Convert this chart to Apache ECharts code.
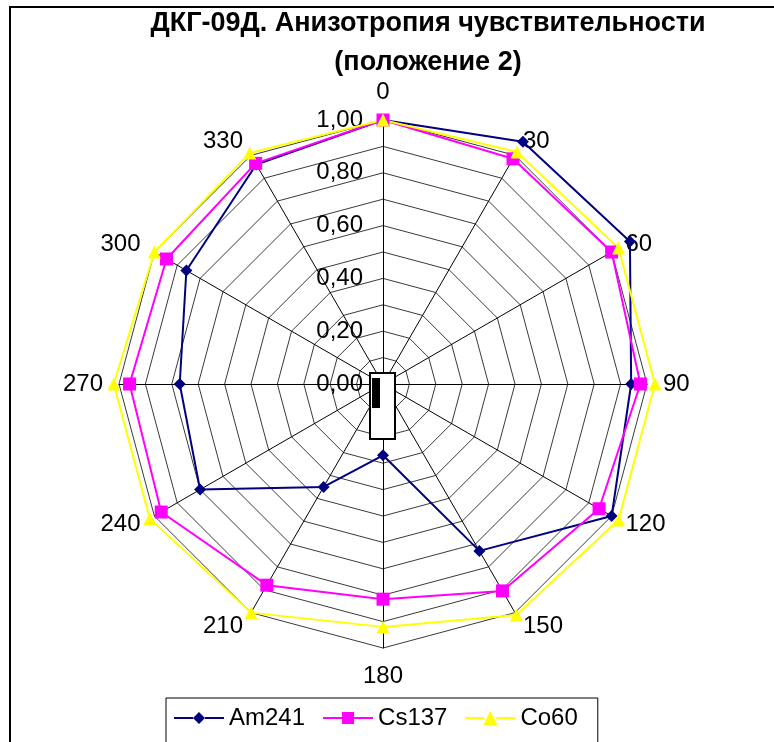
<!DOCTYPE html>
<html>
<head>
<meta charset="utf-8">
<script src="https://cdn.jsdelivr.net/npm/echarts@6/dist/echarts.min.js"></script>
<style>
  html, body { margin: 0; padding: 0; background: #fff; }
  #chart { width: 774px; height: 742px; }
</style>
</head>
<body>
<div id="chart"></div>
<script>
var angles = ['0', '30', '60', '90', '120', '150', '180', '210', '240', '270', '300', '330'];
var am241 = [1.00, 1.06, 1.08, 0.94, 1.00, 0.73, 0.27, 0.45, 0.80, 0.77, 0.86, 0.96];
var cs137 = [1.00, 0.985, 1.00, 0.975, 0.945, 0.905, 0.815, 0.88, 0.97, 0.96, 0.947, 0.965];
var co60 = [1.00, 1.015, 1.03, 1.03, 1.03, 1.01, 0.92, 1.00, 1.02, 1.02, 1.00, 1.01];

var font = 'Arial, "Liberation Sans", sans-serif';

// радар в echarts идёт против часовой, а в Excel по часовой - переставляем
var order = [0];
for (var i = angles.length - 1; i > 0; i--) order.push(i);
function reorder(arr) { return order.map(function (k) { return arr[k]; }); }

var indicators = reorder(angles).map(function (a, idx) {
    var ind = { name: a, min: 0, max: 1 };
    if (idx === 0) ind.axisLabel = { show: true };
    return ind;
});

// иконки легенды: линия с маркером
var lineL = 'M0,6 L19,6 L19,8 L0,8 Z ';
var lineR = 'M31,6 L50,6 L50,8 L31,8 Z ';
var iconDiamond = 'path://' + lineL + 'M25,1 L31,7 L25,13 L19,7 Z ' + lineR;
var iconSquare = 'path://' + lineL + 'M19,1 L31,1 L31,13 L19,13 Z ' + lineR;
var iconTriangle = 'path://' + lineL + 'M25,0 L32,14 L18,14 Z ' + lineR;

var myChart = echarts.init(document.getElementById('chart'));

var option = {
    animation: false,
    backgroundColor: '#fff',
    legend: {
        left: 166,
        top: 698,
        padding: [8, 20, 30, 8],
        borderColor: '#000',
        borderWidth: 1,
        itemWidth: 50,
        itemHeight: 14,
        itemGap: 18,
        textStyle: { fontFamily: font, fontSize: 24, color: '#000' },
        data: [
            { name: 'Am241', icon: iconDiamond },
            { name: 'Cs137', icon: iconSquare },
            { name: 'Co60', icon: iconTriangle }
        ]
    },
    radar: {
        center: [383, 384],
        radius: 264,
        startAngle: 90,
        shape: 'polygon',
        splitNumber: 10,
        indicator: indicators,
        axisName: {
            color: '#000',
            fontFamily: font,
            fontSize: 24
        },
        nameGap: 16,
        axisLine: { lineStyle: { color: '#000', width: 1 } },
        splitLine: { lineStyle: { color: '#3a3a3a', width: 1 } },
        splitArea: { show: false },
        axisTick: { show: false },
        axisLabel: {
            show: false,
            margin: 20,
            color: '#000',
            fontFamily: font,
            fontSize: 24,
            formatter: function (v) {
                return Math.round(v * 10) % 2 === 0 ? v.toFixed(2).replace('.', ',') : '';
            }
        }
    },
    graphic: [
        {
            type: 'rect',
            shape: { x: 10, y: 7, width: 900, height: 800 },
            style: { fill: 'none', stroke: '#000', lineWidth: 2 },
            silent: true
        },
        {
            type: 'text',
            x: 428,
            y: 4,
            style: {
                text: 'ДКГ-09Д. Анизотропия чувствительности\n(положение 2)',
                fontFamily: font,
                fontSize: 27,
                fontWeight: 'bold',
                fill: '#000',
                lineHeight: 39,
                align: 'center',
                verticalAlign: 'top'
            }
        },
        {
            type: 'rect',
            shape: { x: 370, y: 373, width: 25, height: 66 },
            style: { fill: '#fff', stroke: '#000', lineWidth: 2 },
            z: 10
        },
        {
            type: 'rect',
            shape: { x: 372, y: 378, width: 8, height: 30 },
            style: { fill: '#000' },
            z: 11
        }
    ],
    series: [{
        type: 'radar',
        data: [
            {
                name: 'Am241',
                value: reorder(am241),
                symbol: 'diamond',
                symbolSize: 12,
                lineStyle: { color: '#000080', width: 2 },
                itemStyle: { color: '#000080' }
            },
            {
                name: 'Cs137',
                value: reorder(cs137),
                symbol: 'rect',
                symbolSize: 13,
                lineStyle: { color: '#ff00ff', width: 2 },
                itemStyle: { color: '#ff00ff' }
            },
            {
                name: 'Co60',
                value: reorder(co60),
                symbol: 'triangle',
                symbolSize: 13,
                lineStyle: { color: '#ffff00', width: 2 },
                itemStyle: { color: '#ffff00' }
            }
        ]
    }]
};

myChart.setOption(option);
</script>
</body>
</html>
